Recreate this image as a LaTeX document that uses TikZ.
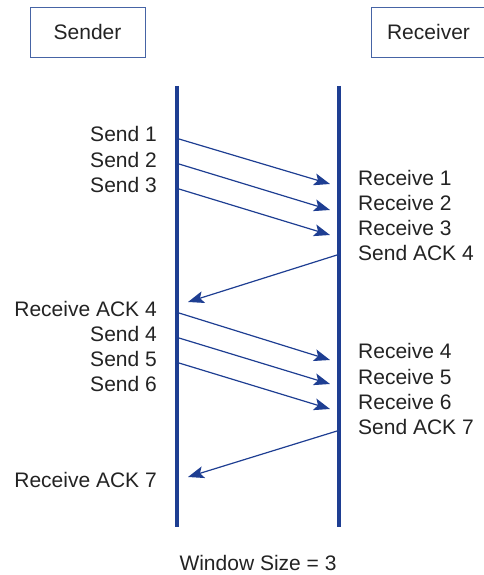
\documentclass[tikz,border=0pt]{standalone}
\usepackage{fontspec}
\setmainfont{Liberation Sans}
\usetikzlibrary{arrows.meta}
\definecolor{lifeblue}{RGB}{30,62,146}
\definecolor{boxblue}{RGB}{70,100,165}
\definecolor{txt}{RGB}{35,35,35}
\tikzset{
  actor/.style={draw=boxblue, line width=0.9pt, minimum width=115pt, minimum height=50pt, inner sep=0pt, text=txt, font=\fontsize{21}{24}\selectfont},
  lifeline/.style={draw=lifeblue, line width=4pt},
  msg/.style={draw=lifeblue, line width=1.2pt, -{Stealth[length=16pt, width=12pt, inset=3.5pt]}},
  lbl/.style={inner sep=0pt, text=txt, font=\fontsize{21}{24}\selectfont},
  llbl/.style={lbl, anchor=base east},
  rlbl/.style={lbl, anchor=base west},
}
\begin{document}
\begin{tikzpicture}[x=1pt, y=-1pt]
\useasboundingbox (0,0) rectangle (483,575);
% actors
\node[actor] (sender) at (87.5,32) {Sender};
\node[actor] (receiver) at (428.5,32) {Receiver};
% lifelines
\coordinate (Ltop) at (177,86);
\coordinate (Lbot) at (177,527);
\coordinate (Rtop) at (338.5,86);
\coordinate (Rbot) at (338.5,527);
\draw[lifeline] (Ltop) -- (Lbot);
\draw[lifeline] (Rtop) -- (Rbot);
% left labels
\node[llbl] (ls1) at (157,142) {Send 1};
\node[llbl] (ls2) at (157,167) {Send 2};
\node[llbl] (ls3) at (157,192) {Send 3};
\node[llbl] (lra4) at (157,316) {Receive ACK 4};
\node[llbl] (ls4) at (157,341) {Send 4};
\node[llbl] (ls5) at (157,366) {Send 5};
\node[llbl] (ls6) at (157,391) {Send 6};
\node[llbl] (lra7) at (157,487) {Receive ACK 7};
% right labels
\node[rlbl] (rr1) at (358,185) {Receive 1};
\node[rlbl] (rr2) at (358,210) {Receive 2};
\node[rlbl] (rr3) at (358,235) {Receive 3};
\node[rlbl] (rsa4) at (358,260) {Send ACK 4};
\node[rlbl] (rr4) at (358,358) {Receive 4};
\node[rlbl] (rr5) at (358,384) {Receive 5};
\node[rlbl] (rr6) at (358,409) {Receive 6};
\node[rlbl] (rsa7) at (358,434) {Send ACK 7};
% message endpoints
\coordinate (a1) at (179,139);  \coordinate (b1) at (330,184);
\coordinate (a2) at (179,164);  \coordinate (b2) at (330,210);
\coordinate (a3) at (179,189);  \coordinate (b3) at (330,235);
\coordinate (c4) at (337,255);  \coordinate (d4) at (188,302);
\coordinate (a4) at (179,313);  \coordinate (b4) at (330,360);
\coordinate (a5) at (179,338);  \coordinate (b5) at (330,384);
\coordinate (a6) at (179,363);  \coordinate (b6) at (330,409);
\coordinate (c7) at (337,431);  \coordinate (d7) at (188,477);
\draw[msg] (a1) -- (b1);
\draw[msg] (a2) -- (b2);
\draw[msg] (a3) -- (b3);
\draw[msg] (c4) -- (d4);
\draw[msg] (a4) -- (b4);
\draw[msg] (a5) -- (b5);
\draw[msg] (a6) -- (b6);
\draw[msg] (c7) -- (d7);
% caption
\node[lbl, anchor=base] (caption) at (258,570) {Window Size = 3};
\end{tikzpicture}
\end{document}
